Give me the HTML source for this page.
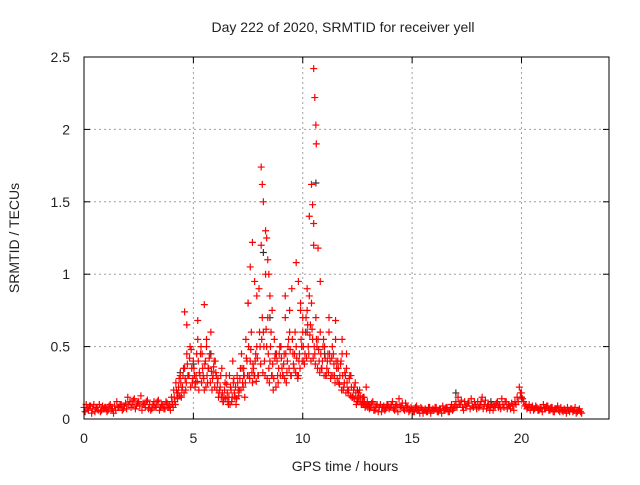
<!DOCTYPE html>
<html><head><meta charset="utf-8"><style>
body{margin:0;background:#fff;}
svg text{font-family:"Liberation Sans",sans-serif;font-size:14px;fill:#222;}
</style></head><body>
<svg width="640" height="480" xmlns="http://www.w3.org/2000/svg">
<g id="grid"></g>
<g id="pts"></g>
<rect x="84" y="57" width="525" height="362" fill="none" stroke="#000" stroke-width="1"/>
<g id="ticks"></g>
<text x="343" y="32" text-anchor="middle">Day 222 of 2020, SRMTID for receiver yell</text>
<text x="345" y="471" text-anchor="middle">GPS time / hours</text>
<text transform="translate(19,238) rotate(-90)" text-anchor="middle">SRMTID / TECUs</text>
</svg>
<script>
const xTicks=[0,5,10,15,20];
const yTicks=[0,0.5,1,1.5,2,2.5];
const yLabels=["0","0.5","1","1.5","2","2.5"];
const startHour=0, stepHour=0.1, activeStart=4.0;
const mainVals=[0.08,0.1,0.06,0.09,0.07,0.05,0.08,0.1,0.06,0.07,
0.08,0.06,0.1,0.07,0.09,0.12,0.08,0.1,0.07,0.11,
0.15,0.12,0.1,0.14,0.09,0.12,0.16,0.11,0.08,0.13,
0.1,0.07,0.12,0.09,0.13,0.08,0.1,0.07,0.11,0.09,
0.15,0.2,0.25,0.18,0.3,0.22,0.35,0.45,0.3,0.48,
0.4,0.25,0.55,0.3,0.45,0.2,0.5,0.35,0.6,0.3,
0.4,0.25,0.2,0.35,0.15,0.3,0.1,0.22,0.4,0.15,
0.3,0.2,0.45,0.35,0.55,0.8,0.4,0.25,0.3,0.5,
0.9,1.2,0.6,1.0,0.7,0.4,0.3,0.55,0.45,0.35,
0.5,0.3,0.7,0.4,0.6,0.9,0.35,0.5,0.3,0.75,
0.6,0.45,0.9,1.4,0.8,1.2,0.7,0.55,0.6,0.4,
0.5,0.35,0.6,0.3,0.45,0.55,0.4,0.3,0.45,0.25,
0.35,0.2,0.3,0.15,0.25,0.12,0.2,0.1,0.15,0.22,
0.1,0.08,0.12,0.06,0.1,0.08,0.05,0.09,0.07,0.1,
0.08,0.12,0.06,0.1,0.14,0.09,0.07,0.11,0.08,0.06,
0.07,0.05,0.09,0.06,0.08,0.04,0.07,0.05,0.08,0.06,
0.06,0.08,0.05,0.07,0.09,0.06,0.08,0.05,0.1,0.07,
0.12,0.15,0.1,0.08,0.12,0.09,0.11,0.14,0.08,0.1,
0.12,0.09,0.15,0.1,0.07,0.1,0.08,0.06,0.09,0.12,
0.1,0.14,0.08,0.12,0.1,0.07,0.09,0.12,0.15,0.22,
0.18,0.12,0.1,0.08,0.06,0.09,0.07,0.08,0.06,0.07,
0.1,0.07,0.09,0.06,0.08,0.05,0.07,0.06,0.08,0.05,
0.06,0.08,0.05,0.07,0.06,0.04,0.06,0.05];
const secondVals=[0.05,0.07,0.09,0.04,0.1,0.08,0.06,0.05,0.09,0.08,
0.05,0.09,0.07,0.04,0.06,0.08,0.1,0.06,0.09,0.07,
0.1,0.08,0.13,0.07,0.11,0.09,0.06,0.1,0.12,0.07,
0.06,0.1,0.08,0.12,0.06,0.1,0.07,0.12,0.08,0.06,
0.1,0.12,0.18,0.28,0.15,0.35,0.2,0.3,0.5,0.25,
0.3,0.45,0.2,0.5,0.3,0.4,0.25,0.45,0.2,0.4,
0.3,0.15,0.3,0.12,0.25,0.18,0.3,0.12,0.28,0.1,
0.2,0.35,0.25,0.15,0.4,0.3,0.6,0.35,0.45,0.3,
0.5,0.7,0.4,0.5,0.35,0.6,0.2,0.45,0.3,0.5,
0.35,0.45,0.25,0.55,0.3,0.45,0.6,0.3,0.45,0.5,
0.4,0.7,0.5,0.65,0.55,0.45,0.5,0.4,0.35,0.55,
0.3,0.45,0.4,0.5,0.3,0.35,0.25,0.4,0.2,0.3,
0.2,0.3,0.15,0.22,0.1,0.18,0.12,0.15,0.08,0.12,
0.07,0.11,0.06,0.09,0.05,0.1,0.08,0.06,0.1,0.07,
0.1,0.07,0.09,0.05,0.08,0.11,0.06,0.09,0.05,0.08,
0.05,0.08,0.06,0.04,0.07,0.06,0.05,0.08,0.04,0.07,
0.08,0.05,0.07,0.04,0.06,0.08,0.05,0.07,0.06,0.09,
0.08,0.1,0.13,0.06,0.09,0.11,0.07,0.09,0.12,0.07,
0.08,0.12,0.07,0.13,0.09,0.06,0.1,0.09,0.11,0.08,
0.07,0.1,0.12,0.07,0.09,0.11,0.06,0.1,0.12,0.18,
0.14,0.09,0.07,0.1,0.08,0.06,0.09,0.06,0.08,0.05,
0.07,0.09,0.06,0.08,0.05,0.07,0.09,0.05,0.06,0.07,
0.04,0.06,0.07,0.05,0.08,0.05,0.07,0.04];
const thirdVals=[0.12,0.15,0.2,0.22,0.25,0.3,0.28,0.38,0.42,0.35,
0.35,0.3,0.4,0.45,0.35,0.38,0.3,0.42,0.33,0.36,
0.32,0.28,0.22,0.18,0.2,0.24,0.15,0.2,0.25,0.22,
0.25,0.28,0.35,0.3,0.42,0.5,0.48,0.38,0.4,0.42,
0.6,0.55,0.5,0.62,0.45,0.5,0.38,0.42,0.4,0.45,
0.42,0.38,0.45,0.5,0.48,0.55,0.45,0.42,0.4,0.55,
0.5,0.6,0.65,0.58,0.62,0.5,0.55,0.48,0.45,0.5,
0.42,0.4,0.45,0.42,0.38,0.4,0.35,0.38,0.3,0.32,
0.25,0.28,0.22,0.2,0.18,0.15,0.16,0.12,0.12,0.1,0.1];
const fourthVals=[0.08,0.1,0.14,0.16,0.2,0.18,0.25,0.3,0.22,0.28,
0.22,0.26,0.32,0.25,0.28,0.22,0.35,0.25,0.28,0.22,
0.2,0.18,0.15,0.12,0.14,0.12,0.1,0.15,0.18,0.14,
0.16,0.2,0.22,0.25,0.3,0.28,0.32,0.3,0.26,0.3,
0.38,0.32,0.3,0.28,0.25,0.3,0.28,0.22,0.25,0.3,
0.3,0.28,0.32,0.35,0.3,0.38,0.32,0.28,0.35,0.4,
0.38,0.42,0.45,0.4,0.42,0.38,0.35,0.32,0.35,0.3,
0.3,0.32,0.28,0.3,0.25,0.28,0.24,0.2,0.22,0.18,
0.18,0.16,0.15,0.14,0.12,0.12,0.1,0.1,0.09,0.08,0.08];
const spikeTimes=[8.1,8.15,8.2,8.3,8.35,8.4,8.45,7.5,7.6,7.7,7.8,7.9,8.5,8.6,10.5,10.55,10.6,10.62,10.4,10.45,10.5,10.7,10.8,10.3,10.2,9.7,9.8,9.9,10.0,4.6,4.7,5.2,5.5,5.6,9.2,9.4,11.2,11.5,11.8,12.0];
const spikeVals=[1.74,1.62,1.5,1.3,1.25,1.1,1.0,0.8,1.05,1.22,0.95,0.85,0.85,0.75,2.42,2.22,2.03,1.9,1.62,1.48,1.35,1.18,0.95,0.85,0.75,1.08,0.95,0.8,0.7,0.74,0.65,0.68,0.79,0.55,0.85,0.75,0.7,0.68,0.55,0.45];
const blackTimes=[4.4,5.0,5.8,7.3,8.2,8.5,9.0,10.2,10.6,11.0,12.5,17.0,18.6,20.0];
const blackVals=[0.32,0.38,0.45,0.3,1.15,0.7,0.5,0.6,1.63,0.45,0.2,0.18,0.12,0.15];

const X0=84,X1=609,Y0=419,Y1=57,xMax=24,yMax=2.5;
const xs=h=>X0+(X1-X0)*h/xMax, ys=v=>Y0-(Y0-Y1)*v/yMax;
const NS="http://www.w3.org/2000/svg";
const grid=document.getElementById('grid'),ticks=document.getElementById('ticks'),pts=document.getElementById('pts');
function mk(tag,attrs,parent){const e=document.createElementNS(NS,tag);for(const k in attrs)e.setAttribute(k,attrs[k]);parent.appendChild(e);return e;}
xTicks.forEach(t=>{const x=xs(t);
 if(t>0){const g=mk('line',{x1:x,y1:Y0,x2:x,y2:Y1,stroke:'#a0a0a0','stroke-dasharray':'2,3'},grid);
 
 }
 mk('line',{x1:x,y1:Y0,x2:x,y2:Y0-6,stroke:'#000'},ticks);mk('line',{x1:x,y1:Y1,x2:x,y2:Y1+6,stroke:'#000'},ticks);
 const tx=mk('text',{x:x,y:Y0+24,'text-anchor':'middle'},ticks);tx.textContent=t;
 
 });
yTicks.forEach((t,i)=>{const y=ys(t);
 if(t>0&&t<yMax){const g=mk('line',{x1:X0,y1:y,x2:X1,y2:y,stroke:'#a0a0a0','stroke-dasharray':'2,3'},grid);
 
 }
 mk('line',{x1:X0,y1:y,x2:X0+6,y2:y,stroke:'#000'},ticks);mk('line',{x1:X1,y1:y,x2:X1-6,y2:y,stroke:'#000'},ticks);
 const tx=mk('text',{x:X0-14,y:y+5,'text-anchor':'end'},ticks);tx.textContent=yLabels[i];
 
 });
function plus(h,v,col,name){const x=xs(h),y=ys(v);
 const p=mk('path',{d:`M${x-3.5},${y}h7M${x},${y-3.5}v7`,stroke:col,'stroke-width':1.2,fill:'none'},pts);
 
 }
blackTimes.forEach((t,i)=>plus(t,blackVals[i],'#333','black-point'));
mainVals.forEach((v,i)=>plus(startHour+i*stepHour,v,'#f00','red-point'));
secondVals.forEach((v,i)=>plus(startHour+i*stepHour+0.05,v,'#f00','red-point'));
thirdVals.forEach((v,i)=>plus(activeStart+i*stepHour+0.025,v,'#f00','red-point'));
fourthVals.forEach((v,i)=>plus(activeStart+i*stepHour+0.075,v,'#f00','red-point'));
spikeTimes.forEach((t,i)=>plus(t,spikeVals[i],'#f00','red-point'));
</script>
</body></html>
